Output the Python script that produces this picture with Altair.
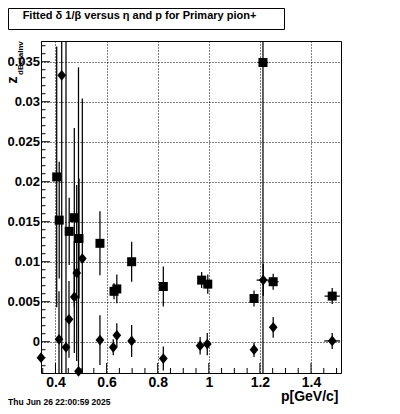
import altair as alt
import pandas as pd

# ---- data ----
# square series
sq_p = [0.4047, 0.4145, 0.4536, 0.4736, 0.4920, 0.574, 0.629, 0.640, 0.698, 0.822,
        0.972, 0.996, 1.177, 1.212, 1.252, 1.483]
sq_z = [0.0206, 0.0152, 0.0138, 0.0155, 0.0129, 0.0123, 0.0063, 0.0066, 0.0100, 0.0069,
        0.0077, 0.0072, 0.0054, 0.0349, 0.0075, 0.0057]
sq_ez = [0.0163, 0.0073, 0.0042, 0.0112, 0.0075, 0.0040, 0.0010, 0.0018, 0.0025, 0.0025,
         0.0010, 0.0012, 0.0010, 0.0450, 0.0010, 0.0010]
sq_ep = [0, 0, 0, 0, 0, 0, 0, 0, 0, 0,
         0, 0, 0, 0.021, 0.021, 0.030]

# diamond series
dm_p = [0.3433, 0.4137, 0.4243, 0.4411, 0.4528, 0.4736, 0.4830, 0.4900, 0.5050, 0.574,
        0.626, 0.640, 0.698, 0.822, 0.966, 0.994, 1.177, 1.213, 1.252, 1.483]
dm_z = [-0.0020, 0.0003, 0.0333, -0.0007, 0.0028, 0.0056, 0.0086, -0.0037, 0.0104, 0.0002,
        -0.0007, 0.0008, 0.0001, -0.0021, -0.0005, -0.0003, -0.0010, 0.0077, 0.0018, 0.0001]
dm_ez = [0.0012, 0.0060, 0.0450, 0.0450, 0.0048, 0.0070, 0.0110, 0.0380, 0.0200, 0.0031,
         0.0010, 0.0015, 0.0020, 0.0015, 0.0011, 0.0014, 0.0009, 0.0020, 0.0013, 0.0010]
dm_ep = [0, 0, 0, 0, 0, 0, 0, 0, 0, 0,
         0, 0, 0, 0, 0, 0, 0, 0.026, 0, 0.031]

x_major = [0.4, 0.6, 0.8, 1.0, 1.2, 1.4]
x_minor = [0.35, 0.45, 0.5, 0.55, 0.65, 0.7, 0.75, 0.85, 0.9, 0.95, 1.05, 1.1, 1.15,
           1.25, 1.3, 1.35, 1.45, 1.5]
y_major = [0.0, 0.005, 0.01, 0.015, 0.02, 0.025, 0.03, 0.035]
y_minor = [-0.003, -0.002, -0.001, 0.001, 0.002, 0.003, 0.004, 0.006, 0.007, 0.008, 0.009,
           0.011, 0.012, 0.013, 0.014, 0.016, 0.017, 0.018, 0.019, 0.021, 0.022, 0.023,
           0.024, 0.026, 0.027, 0.028, 0.029, 0.031, 0.032, 0.033, 0.034, 0.036, 0.037]

title_text = "Fitted \u03b4  1/\u03b2  versus \u03b7 and p for Primary pion+"
x_title = "p[GeV/c]"
date_text = "Thu Jun 26 22:00:59 2025"

# ---- tables ----
rows = []
for p, z, ez, ep in zip(sq_p, sq_z, sq_ez, sq_ep):
    rows.append(dict(series="sq", p=p, z=z, lo=z - ez, hi=z + ez, plo=p - ep, phi=p + ep, ep=ep))
for p, z, ez, ep in zip(dm_p, dm_z, dm_ez, dm_ep):
    rows.append(dict(series="dm", p=p, z=z, lo=z - ez, hi=z + ez, plo=p - ep, phi=p + ep, ep=ep))
df = pd.DataFrame(rows)

xs = alt.Scale(domain=[0.34325, 1.5174], nice=False, zero=False)
ys = alt.Scale(domain=[-0.00391, 0.03759], nice=False, zero=False)

xaxis = alt.Axis(values=x_major, format="~g", grid=True, ticks=False, tickSize=0, domain=False,
                 labelPadding=2, labelFontSize=14, title=None)
yaxis = alt.Axis(values=y_major, format="~g", grid=True, ticks=False, tickSize=0, domain=False,
                 labelPadding=1.5, labelFontSize=13, title=None)

base = alt.Chart(df)
LW = 1.25

verr = base.mark_rule(color="black", strokeWidth=LW, clip=True).encode(
    x=alt.X("p:Q", scale=xs, axis=xaxis),
    y=alt.Y("lo:Q", scale=ys, axis=yaxis),
    y2="hi:Q",
)
herr = base.transform_filter("datum.ep > 0").mark_rule(color="black", strokeWidth=LW, clip=True).encode(
    x=alt.X("plo:Q", scale=xs, axis=xaxis),
    x2="phi:Q",
    y=alt.Y("z:Q", scale=ys, axis=yaxis),
)
squares = base.transform_filter("datum.series == 'sq'").mark_point(
    shape="square", filled=True, size=81, color="black", opacity=1
).encode(
    x=alt.X("p:Q", scale=xs, axis=xaxis),
    y=alt.Y("z:Q", scale=ys, axis=yaxis),
)
diamonds = base.transform_filter("datum.series == 'dm'").mark_point(
    shape="M-0.81,0L0,-1L0.81,0L0,1Z", filled=True, size=115, color="black", opacity=1
).encode(
    x=alt.X("p:Q", scale=xs, axis=xaxis),
    y=alt.Y("z:Q", scale=ys, axis=yaxis),
)

# ticks pointing inwards (ROOT style)
ymaj = alt.Chart(pd.DataFrame({"v": y_major})).mark_rule(color="black", strokeWidth=1).encode(
    y=alt.Y("v:Q", scale=ys, axis=yaxis), x=alt.value(0), x2=alt.value(9))
ymin = alt.Chart(pd.DataFrame({"v": y_minor})).mark_rule(color="black", strokeWidth=1).encode(
    y=alt.Y("v:Q", scale=ys, axis=yaxis), x=alt.value(0), x2=alt.value(4.5))
xmaj = alt.Chart(pd.DataFrame({"v": x_major})).mark_rule(color="black", strokeWidth=1).encode(
    x=alt.X("v:Q", scale=xs, axis=xaxis), y=alt.value(332), y2=alt.value(322))
xmin = alt.Chart(pd.DataFrame({"v": x_minor})).mark_rule(color="black", strokeWidth=1).encode(
    x=alt.X("v:Q", scale=xs, axis=xaxis), y=alt.value(332), y2=alt.value(327))

# title box
tbox = alt.Chart(pd.DataFrame({"a": [0]})).mark_rect(fill="white", stroke="black", strokeWidth=1).encode(
    x=alt.value(-32.5), x2=alt.value(243.5), y=alt.value(-32.5), y2=alt.value(-11.5))
ttext = alt.Chart(pd.DataFrame({"t": [title_text]})).mark_text(
    font="Liberation Sans", fontWeight="bold", fontSize=11, align="center", baseline="middle", color="black"
).encode(text="t:N", x=alt.value(98.5), y=alt.value(-25))

# axis titles
ztext = alt.Chart(pd.DataFrame({"t": ["z"]})).mark_text(
    font="Liberation Sans", fontWeight="bold", fontSize=14, angle=270, align="center", baseline="middle", color="black"
).encode(text="t:N", x=alt.value(-28), y=alt.value(39))
zsub = alt.Chart(pd.DataFrame({"t": ["dBetaInv"]})).mark_text(
    font="Liberation Sans", fontWeight="bold", fontSize=8, angle=270, align="left", baseline="middle", color="black"
).encode(text="t:N", x=alt.value(-20), y=alt.value(34))
xtext = alt.Chart(pd.DataFrame({"t": [x_title]})).mark_text(
    font="Liberation Sans", fontWeight="bold", fontSize=14, align="right", baseline="alphabetic", color="black"
).encode(text="t:N", x=alt.value(297.5), y=alt.value(360))
dtext = alt.Chart(pd.DataFrame({"t": [date_text]})).mark_text(
    font="Liberation Sans", fontWeight="bold", fontSize=8.5, align="left", baseline="alphabetic", color="black"
).encode(text="t:N", x=alt.value(-33), y=alt.value(364))

chart = alt.layer(
    verr, herr, squares, diamonds, ymaj, ymin, xmaj, xmin, tbox, ttext, ztext, zsub, xtext, dtext
).properties(
    width=300, height=332, autosize="none",
    padding={"left": 33, "top": 33, "right": 51, "bottom": 33},
    background="white",
).configure_view(
    stroke="black", strokeWidth=1
).configure_axis(
    gridColor="black", gridDash=[1, 2], gridOpacity=1, gridWidth=1,
    labelFont="Liberation Sans", labelFontWeight="bold", labelColor="black",
)

chart.save("out.html", embed_options={"renderer": "svg", "actions": False})
